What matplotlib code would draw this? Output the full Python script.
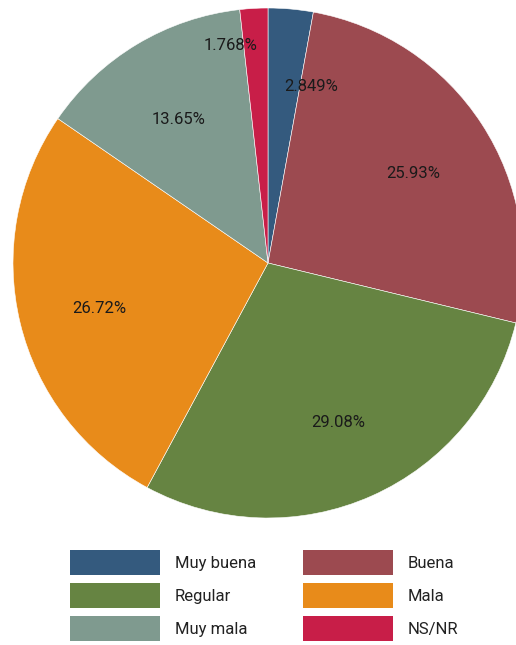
import matplotlib.pyplot as plt
from matplotlib.patches import Patch
import numpy as np

categories = ["Muy buena", "Buena", "Regular", "Mala", "Muy mala", "NS/NR"]
values = [2.849, 25.93, 29.08, 26.72, 13.65, 1.768]
labels = ["2.849%", "25.93%", "29.08%", "26.72%", "13.65%", "1.768%"]
colors = ["#345a7e", "#9c4a50", "#668442", "#e88b1a", "#7f9a8f", "#c81e48"]

plt.rcParams['font.family'] = ['Roboto', 'DejaVu Sans']

fig = plt.figure(figsize=(5.16, 6.45), dpi=100)
# pie centre ~ (268, 263) px, radius ~255 px
ax = fig.add_axes([13 / 516, 127 / 645, 510 / 516, 510 / 645])

wedges, texts = ax.pie(values, colors=colors, startangle=90, counterclock=False,
                       wedgeprops=dict(edgecolor='white', linewidth=0.4))
ax.set_xlim(-1, 1)
ax.set_ylim(-1, 1)
ax.set_aspect('equal')
ax.axis('off')

# percentage labels, small slices nudged like the original
offsets = {0: (0.11, 0.035), 5: (-0.11, 0.195), 2: (0, 0.015)}
for i, w in enumerate(wedges):
    ang = np.deg2rad((w.theta1 + w.theta2) / 2)
    r = 0.68
    x, y = r * np.cos(ang), r * np.sin(ang)
    dx, dy = offsets.get(i, (0, 0))
    ax.text(x + dx, y + dy - 0.02, labels[i], ha='center', va='center',
            fontsize=12, color='#1a1a1a')

# legend filled row by row
order = [0, 2, 4, 1, 3, 5]
handles = [Patch(facecolor=colors[i], edgecolor='none') for i in order]
fig.legend(handles, [categories[i] for i in order], ncol=2, loc='upper left',
           bbox_to_anchor=(70 / 516, 1 - 550 / 645), frameon=False,
           fontsize=12, handlelength=5.4, handleheight=1.9,
           handletextpad=0.9, labelspacing=0.5, columnspacing=2.8,
           borderpad=0, borderaxespad=0, labelcolor='#222222')

fig.savefig("out.png", dpi=100)
